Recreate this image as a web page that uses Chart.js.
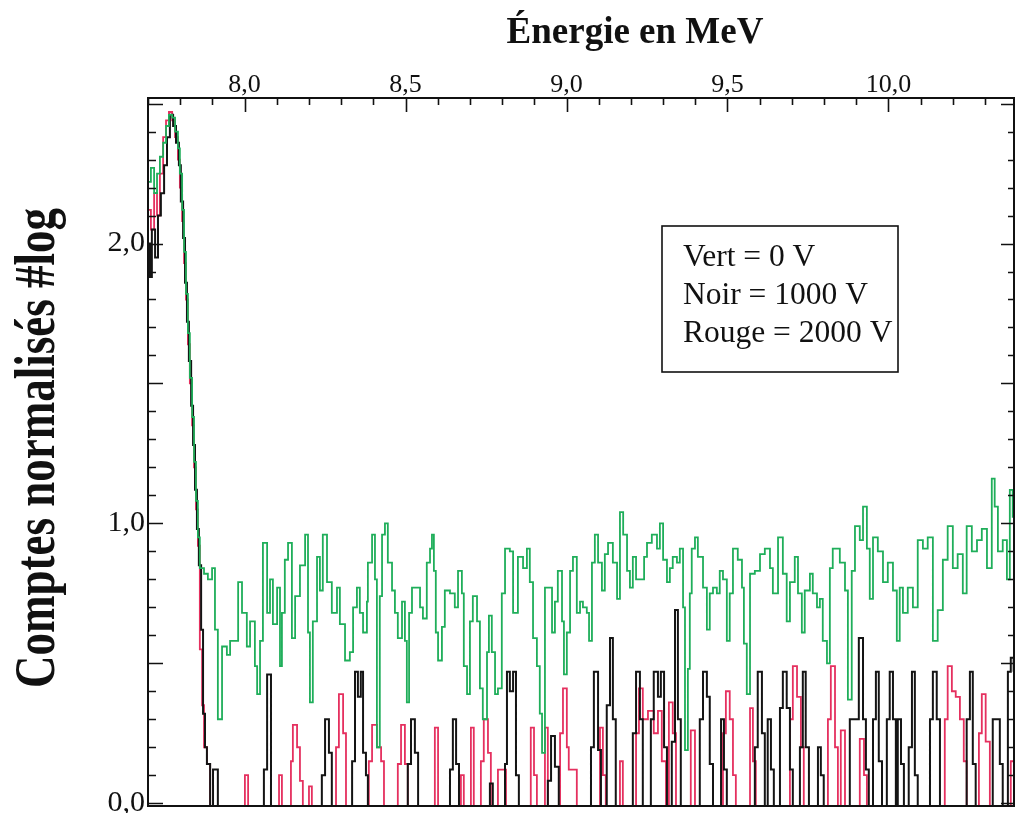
<!DOCTYPE html>
<html><head><meta charset="utf-8">
<script src="https://cdn.jsdelivr.net/npm/chart.js@4/dist/chart.umd.min.js"></script>
<style>html,body{margin:0;padding:0;background:#fff;}canvas{display:block;}</style>
</head><body>
<canvas id="c" width="1016" height="813"></canvas>
<script>
// ---- axis ranges and ticks ----
const xRange = [7.70, 10.39];
const yRange = [-0.01, 2.52];
const xTickStep = 0.1, xLabelStep = 0.5;
const yTickStep = 0.1, yMajorStep = 0.5, yLabelStep = 1.0;
const xTitle = 'Énergie en MeV';
const yTitle = 'Comptes normalisés #log';

// ---- legend ----
const seriesNames = ['Vert', 'Noir', 'Rouge'];
const seriesVoltages = [0, 1000, 2000];
const seriesColors = ['#1fae5a', '#141414', '#e5305f'];

// ---- series: [énergie MeV, comptes normalisés log] (histogram steps) ----
const vert0V = [
[7.700,2.22],[7.709,2.27],[7.719,2.18],[7.728,2.25],[7.737,2.31],[7.747,2.36],[7.756,2.42],[7.765,2.46],
[7.775,2.45],[7.784,2.40],[7.793,2.34],[7.799,2.25],[7.806,2.12],[7.812,1.97],[7.818,1.82],[7.824,1.68],
[7.830,1.52],[7.837,1.38],[7.843,1.22],[7.849,1.08],[7.855,0.95],[7.861,0.84],[7.874,0.82],[7.886,0.80],
[7.899,0.84],[7.908,0.62],[7.917,0.30],[7.930,0.56],[7.945,0.53],[7.955,0.58],[7.970,0.58],[7.980,0.79],
[7.992,0.68],[8.007,0.56],[8.017,0.65],[8.032,0.49],[8.039,0.39],[8.048,0.58],[8.057,0.93],[8.070,0.68],
[8.079,0.80],[8.088,0.64],[8.101,0.77],[8.110,0.49],[8.116,0.68],[8.125,0.87],[8.135,0.93],[8.147,0.59],
[8.157,0.74],[8.172,0.85],[8.188,0.96],[8.197,0.61],[8.203,0.36],[8.212,0.65],[8.225,0.88],[8.234,0.76],
[8.243,0.96],[8.256,0.79],[8.271,0.68],[8.287,0.77],[8.296,0.64],[8.312,0.51],[8.327,0.54],[8.337,0.70],
[8.349,0.77],[8.358,0.68],[8.368,0.61],[8.380,0.72],[8.383,0.86],[8.396,0.96],[8.405,0.80],[8.411,0.20],
[8.420,0.74],[8.427,0.96],[8.436,1.00],[8.445,0.86],[8.458,0.76],[8.467,0.68],[8.476,0.59],[8.489,0.72],
[8.498,0.58],[8.504,0.36],[8.511,0.68],[8.520,0.77],[8.535,0.77],[8.545,0.70],[8.554,0.66],[8.566,0.86],
[8.576,0.91],[8.582,0.96],[8.588,0.83],[8.594,0.61],[8.601,0.51],[8.613,0.63],[8.622,0.76],[8.638,0.75],
[8.653,0.70],[8.663,0.83],[8.675,0.75],[8.681,0.49],[8.691,0.39],[8.700,0.65],[8.709,0.74],[8.722,0.65],
[8.731,0.41],[8.740,0.30],[8.753,0.54],[8.759,0.67],[8.768,0.54],[8.778,0.39],[8.787,0.41],[8.799,0.75],
[8.809,0.91],[8.824,0.90],[8.834,0.68],[8.849,0.88],[8.865,0.84],[8.877,0.91],[8.886,0.79],[8.896,0.59],
[8.908,0.49],[8.917,0.32],[8.924,0.18],[8.933,0.77],[8.942,0.77],[8.955,0.61],[8.964,0.72],[8.973,0.83],
[8.986,0.65],[8.992,0.46],[9.001,0.61],[9.011,0.83],[9.020,0.88],[9.032,0.68],[9.042,0.72],[9.051,0.70],
[9.063,0.68],[9.070,0.58],[9.079,0.86],[9.088,0.96],[9.098,0.86],[9.110,0.76],[9.119,0.89],[9.129,0.93],
[9.144,0.86],[9.157,0.73],[9.166,1.04],[9.176,0.96],[9.188,0.83],[9.197,0.77],[9.206,0.88],[9.216,0.80],
[9.228,0.80],[9.241,0.88],[9.250,0.93],[9.265,0.96],[9.281,0.91],[9.290,1.00],[9.300,0.87],[9.312,0.79],
[9.321,0.84],[9.330,0.88],[9.343,0.86],[9.352,0.91],[9.362,0.70],[9.368,0.19],[9.377,0.48],[9.383,0.75],
[9.389,0.91],[9.399,0.95],[9.408,0.88],[9.424,0.77],[9.436,0.62],[9.445,0.75],[9.455,0.77],[9.467,0.75],
[9.476,0.83],[9.486,0.80],[9.498,0.58],[9.507,0.75],[9.517,0.91],[9.532,0.87],[9.545,0.77],[9.551,0.57],
[9.560,0.39],[9.570,0.82],[9.585,0.83],[9.601,0.89],[9.616,0.91],[9.632,0.84],[9.641,0.75],[9.657,0.95],
[9.672,0.82],[9.684,0.65],[9.694,0.79],[9.709,0.88],[9.719,0.75],[9.731,0.61],[9.740,0.76],[9.756,0.82],
[9.765,0.75],[9.778,0.70],[9.787,0.73],[9.796,0.58],[9.809,0.50],[9.818,0.84],[9.827,0.91],[9.849,0.86],
[9.865,0.76],[9.874,0.37],[9.886,0.83],[9.896,0.99],[9.911,0.94],[9.921,1.06],[9.933,0.91],[9.942,0.73],
[9.952,0.95],[9.967,0.90],[9.983,0.79],[9.998,0.86],[10.014,0.76],[10.026,0.58],[10.035,0.77],[10.045,0.68],
[10.060,0.77],[10.076,0.70],[10.091,0.94],[10.107,0.91],[10.122,0.95],[10.138,0.58],[10.153,0.69],[10.169,0.87],
[10.184,0.99],[10.200,0.84],[10.215,0.89],[10.231,0.75],[10.243,0.99],[10.259,0.90],[10.275,0.94],[10.290,0.98],
[10.306,0.84],[10.321,1.16],[10.330,1.06],[10.340,0.90],[10.355,0.94],[10.368,0.80],[10.377,1.12],[10.386,1.02]
];
const noir1000V = [
[7.700,2.00],[7.706,1.88],[7.712,2.05],[7.722,1.95],[7.731,2.10],[7.740,2.18],[7.750,2.28],[7.759,2.38],
[7.768,2.46],[7.778,2.42],[7.787,2.36],[7.796,2.28],[7.802,2.15],[7.809,2.02],[7.815,1.86],[7.821,1.72],
[7.827,1.58],[7.834,1.42],[7.840,1.28],[7.846,1.12],[7.852,0.98],[7.858,0.85],[7.865,0.62],[7.871,0.32],
[7.877,0.20],[7.883,0.14],[7.893,-0.05],[7.902,0.12],[7.917,-0.05],
[8.060,0.12],[8.070,0.46],[8.082,-0.05],
[8.240,0.10],[8.250,0.30],[8.262,0.18],[8.271,-0.05],
[8.334,0.15],[8.343,0.47],[8.352,0.38],[8.361,0.47],[8.368,0.18],[8.377,0.10],[8.383,-0.05],
[8.507,0.14],[8.517,0.30],[8.529,0.18],[8.539,-0.05],
[8.638,0.12],[8.647,0.30],[8.657,0.14],[8.666,-0.05],
[8.762,0.07],[8.771,-0.05],
[8.809,0.14],[8.815,0.47],[8.824,0.40],[8.834,0.47],[8.843,0.10],[8.852,-0.05],
[8.942,0.08],[8.952,0.24],[8.964,0.13],[8.976,-0.05],
[9.076,0.20],[9.085,0.47],[9.098,0.19],[9.107,-0.05],
[9.125,0.35],[9.135,0.59],[9.144,0.30],[9.153,-0.05],
[9.206,0.25],[9.216,0.47],[9.228,0.30],[9.237,-0.05],
[9.262,0.30],[9.271,0.47],[9.284,0.38],[9.293,0.47],[9.303,0.20],[9.312,-0.05],
[9.327,0.22],[9.337,0.69],[9.346,0.30],[9.355,-0.05],
[9.414,0.30],[9.424,0.47],[9.436,0.38],[9.445,0.14],[9.455,-0.05],
[9.480,0.30],[9.489,0.12],[9.498,-0.05],
[9.585,0.20],[9.594,0.47],[9.607,0.25],[9.616,-0.05],
[9.625,0.30],[9.635,0.12],[9.644,-0.05],
[9.663,0.34],[9.672,0.47],[9.684,0.34],[9.694,0.12],[9.703,-0.05],
[9.725,0.20],[9.734,0.47],[9.743,0.20],[9.753,-0.05],
[9.781,0.20],[9.790,0.10],[9.799,-0.05],
[9.880,0.30],[9.908,0.59],[9.921,0.30],[9.930,0.12],[9.939,-0.05],
[9.952,0.30],[9.961,0.47],[9.970,0.15],[9.980,-0.05],
[9.995,0.30],[10.004,0.47],[10.014,0.30],[10.023,-0.05],
[10.029,0.30],[10.039,0.14],[10.048,-0.05],
[10.063,0.20],[10.073,0.47],[10.082,0.10],[10.091,-0.05],
[10.129,0.30],[10.138,0.47],[10.150,0.30],[10.160,-0.05],
[10.243,0.30],[10.253,0.47],[10.262,0.14],[10.271,-0.05],
[10.324,0.30],[10.346,0.14],[10.355,-0.05],
[10.371,0.47],[10.380,0.52],[10.389,0.47]
];
const rouge2000V = [
[7.700,2.12],[7.709,2.05],[7.719,2.18],[7.728,2.10],[7.737,2.25],[7.747,2.38],[7.756,2.44],[7.765,2.47],
[7.775,2.44],[7.784,2.38],[7.793,2.30],[7.799,2.20],[7.806,2.08],[7.812,1.93],[7.818,1.80],[7.824,1.64],
[7.830,1.50],[7.837,1.35],[7.843,1.20],[7.849,1.05],[7.855,0.92],[7.861,0.55],[7.868,0.35],[7.874,0.20],
[7.883,0.14],[7.893,-0.05],
[8.001,0.10],[8.011,-0.05],
[8.107,0.10],[8.116,-0.05],
[8.144,0.15],[8.150,0.28],[8.163,0.20],[8.172,0.08],[8.181,-0.05],
[8.200,0.06],[8.209,-0.05],
[8.284,0.20],[8.293,0.39],[8.306,0.25],[8.315,-0.05],
[8.386,0.15],[8.396,0.28],[8.411,0.20],[8.424,0.15],[8.433,-0.05],
[8.476,0.14],[8.486,0.28],[8.498,0.14],[8.507,-0.05],
[8.591,0.27],[8.601,-0.05],
[8.672,0.10],[8.681,-0.05],
[8.703,0.27],[8.712,-0.05],
[8.734,0.15],[8.743,0.30],[8.756,0.18],[8.765,-0.05],
[8.787,0.12],[8.812,-0.05],
[8.889,0.27],[8.899,0.10],[8.908,-0.05],
[8.933,0.27],[8.942,-0.05],
[8.980,0.25],[8.989,0.41],[9.001,0.20],[9.007,0.12],[9.032,-0.05],
[9.104,0.27],[9.113,0.10],[9.122,-0.05],
[9.166,0.15],[9.175,-0.05],
[9.216,0.25],[9.225,0.41],[9.237,0.30],[9.253,0.33],[9.271,0.25],[9.284,0.33],[9.296,0.15],[9.309,-0.05],
[9.318,0.36],[9.330,0.25],[9.340,-0.05],
[9.386,0.26],[9.399,-0.05],
[9.486,0.25],[9.495,0.40],[9.507,0.30],[9.517,0.10],[9.526,-0.05],
[9.570,0.34],[9.579,0.15],[9.588,-0.05],
[9.694,0.30],[9.703,0.49],[9.716,0.38],[9.728,0.20],[9.737,-0.05],
[9.812,0.30],[9.821,0.49],[9.834,0.20],[9.843,-0.05],
[9.852,0.26],[9.865,-0.05],
[9.911,0.23],[9.924,0.10],[9.933,-0.05],
[10.175,0.30],[10.184,0.49],[10.197,0.40],[10.209,0.38],[10.222,0.30],[10.234,0.15],[10.243,-0.05],
[10.281,0.25],[10.290,0.39],[10.302,0.22],[10.315,-0.05],
[10.380,0.15],[10.389,0.15]
];
const seriesData = [vert0V, noir1000V, rouge2000V];

// ---- helpers ----
const serif = "'Liberation Serif', 'DejaVu Serif', 'Times New Roman', serif";
const fmt = v => v.toFixed(1).replace('.', ',');
const isMult = (v, s) => Math.abs(v / s - Math.round(v / s)) < 1e-6;

const frameTicks = {
  id: 'frameTicks',
  afterDatasetsDraw(chart) {
    const {ctx, chartArea: a, scales: {x, y}} = chart;
    ctx.save();
    ctx.strokeStyle = '#111';
    ctx.lineWidth = 2;
    ctx.strokeRect(a.left, a.top, a.right - a.left, a.bottom - a.top);
    ctx.lineWidth = 1.6;
    ctx.beginPath();
    const kx0 = Math.ceil(xRange[0] / xTickStep - 1e-6), kx1 = Math.floor(xRange[1] / xTickStep + 1e-6);
    for (let k = kx0; k <= kx1; k++) {
      const v = k * xTickStep;
      const px = Math.round(x.getPixelForValue(v)) + 0.5;
      const len = isMult(v, xLabelStep) ? 14 : 7;
      ctx.moveTo(px, a.top); ctx.lineTo(px, a.top + len);
    }
    const ky0 = Math.ceil(yRange[0] / yTickStep - 1e-6), ky1 = Math.floor(yRange[1] / yTickStep + 1e-6);
    for (let k = Math.max(0, ky0); k <= ky1; k++) {
      const v = k * yTickStep;
      const py = Math.round(y.getPixelForValue(v)) + 0.5;
      const major = isMult(v, yMajorStep);
      ctx.moveTo(a.left, py); ctx.lineTo(a.left + (major ? 15 : 8), py);
      ctx.moveTo(a.right, py); ctx.lineTo(a.right - (major ? 13 : 6), py);
    }
    ctx.stroke();
    ctx.restore();
  },
  afterDraw(chart) {
    const {ctx, chartArea: a} = chart;
    ctx.save();
    // axis titles
    ctx.fillStyle = '#111';
    ctx.textAlign = 'center';
    ctx.textBaseline = 'alphabetic';
    ctx.font = 'bold 37px ' + serif;
    ctx.fillText(xTitle, a.left + 487, 43);
    ctx.translate(54, a.top + 350);
    ctx.rotate(-Math.PI / 2);
    ctx.scale(1, 1.25);
    ctx.font = 'bold 45px ' + serif;
    ctx.fillText(yTitle, 0, 0);
    ctx.restore();

    // legend box
    ctx.save();
    const bx = 662, by = 226, bw = 236, bh = 146;
    ctx.fillStyle = '#fff';
    ctx.fillRect(bx, by, bw, bh);
    ctx.strokeStyle = '#111';
    ctx.lineWidth = 1.6;
    ctx.strokeRect(bx, by, bw, bh);
    ctx.fillStyle = '#111';
    ctx.font = '31.5px ' + serif;
    ctx.textBaseline = 'alphabetic';
    ctx.textAlign = 'left';
    seriesNames.forEach((n, i) => {
      ctx.fillText(n + ' = ' + seriesVoltages[i] + ' V', bx + 21, by + 40 + i * 38);
    });
    ctx.restore();
  }
};

new Chart(document.getElementById('c'), {
  type: 'line',
  data: {
    datasets: seriesData.map((d, i) => ({
      label: seriesNames[i] + ' = ' + seriesVoltages[i] + ' V',
      data: d.map(p => ({x: p[0], y: p[1]})),
      borderColor: seriesColors[i],
      borderWidth: i === 1 ? 2 : 1.8,
      stepped: true,
      pointRadius: 0,
      fill: false,
      tension: 0
    }))
  },
  options: {
    responsive: false,
    animation: false,
    devicePixelRatio: 1,
    layout: {padding: {left: 0, right: 2, top: 0, bottom: 7}},
    plugins: {legend: {display: false}, tooltip: {enabled: false}},
    scales: {
      x: {
        type: 'linear', position: 'top', min: xRange[0], max: xRange[1],
        afterFit: s => { s.height = 98; s.paddingLeft = 0; s.paddingRight = 0; },
        grid: {display: false, drawTicks: false},
        border: {display: false},
        ticks: {
          stepSize: xTickStep, autoSkip: false, maxRotation: 0, padding: -3, includeBounds: false,
          color: '#111', font: {family: serif, size: 26},
          callback: v => isMult(v, xLabelStep) ? fmt(v) : ''
        },
        title: {display: false}
      },
      y: {
        type: 'linear', min: yRange[0], max: yRange[1],
        afterFit: s => { s.width = 148; s.paddingTop = 0; s.paddingBottom = 0; },
        grid: {display: false, drawTicks: false},
        border: {display: false},
        ticks: {
          stepSize: yTickStep, autoSkip: false, padding: 3, includeBounds: false,
          color: '#111', font: {family: serif, size: 30},
          callback: v => (v >= 0 && isMult(v, yLabelStep)) ? fmt(v) : ''
        },
        title: {display: false}
      }
    }
  },
  plugins: [frameTicks]
});
</script>
</body></html>
